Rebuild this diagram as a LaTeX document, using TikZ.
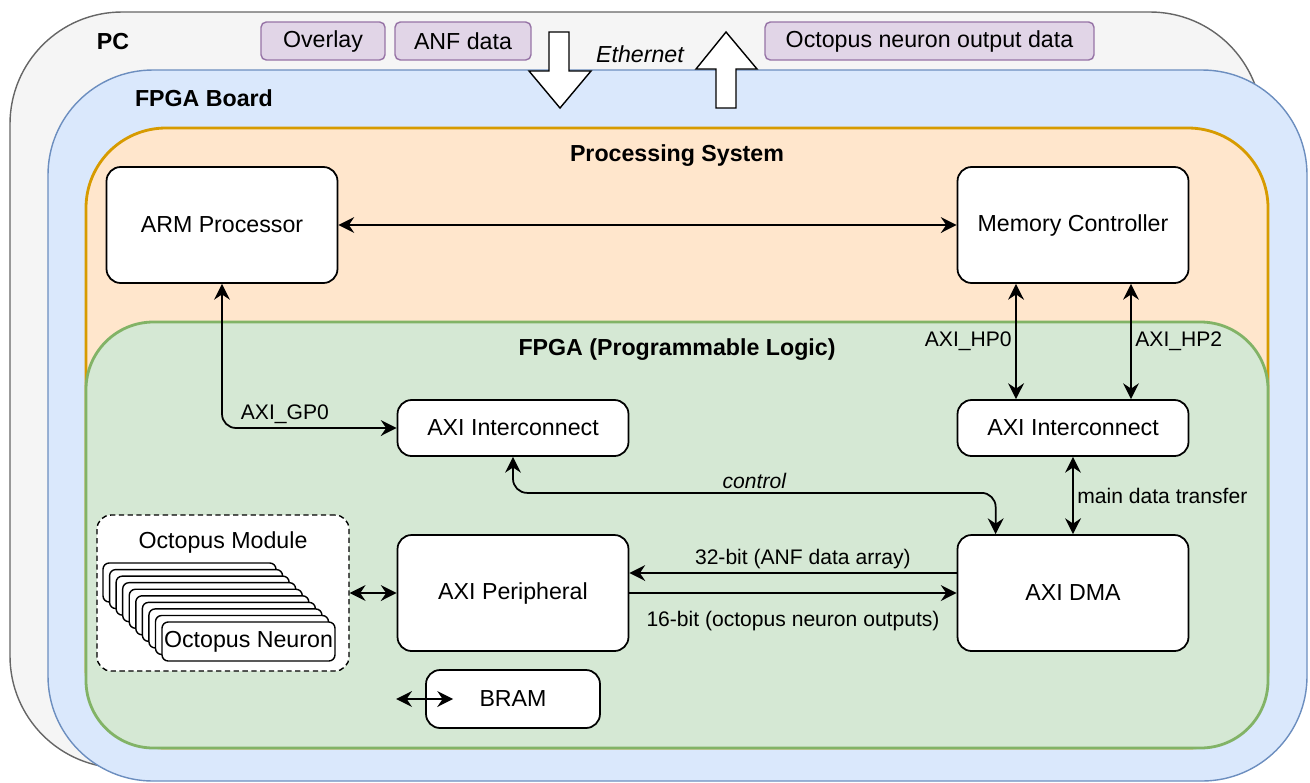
\documentclass[tikz,border=0pt]{standalone}
\usepackage{fontspec}
\setmainfont{Liberation Sans}
\usetikzlibrary{arrows.meta,positioning}

\definecolor{pcfill}{HTML}{F5F5F5}
\definecolor{pcline}{HTML}{666666}
\definecolor{boardfill}{HTML}{DAE8FC}
\definecolor{boardline}{HTML}{6C8EBF}
\definecolor{psfill}{HTML}{FFE6CC}
\definecolor{psline}{HTML}{D79B00}
\definecolor{plfill}{HTML}{D5E8D4}
\definecolor{plline}{HTML}{82B366}
\definecolor{tagfill}{HTML}{E1D5E7}
\definecolor{tagline}{HTML}{9673A6}

\begin{document}
\begin{tikzpicture}[
    x=0.02cm, y=-0.02cm,
    every node/.style={font=\fontsize{13.2}{15}\selectfont},
    block/.style={draw, fill=white, rounded corners=8pt, line width=1pt,
      minimum width=4.62cm, minimum height=2.32cm},
    flat block/.style={block, minimum height=1.12cm},
    tagbox/.style={draw=tagline, fill=tagfill, rounded corners=3pt, line width=0.8pt,
      minimum height=0.76cm},
    neuron/.style={draw, fill=white, rounded corners=3.5pt, line width=0.8pt,
      minimum width=3.46cm, minimum height=0.78cm, inner sep=0pt},
    boxtitle/.style={font=\bfseries\fontsize{13.2}{15}\selectfont},
    lbl/.style={font=\fontsize{12}{14}\selectfont, inner sep=2pt},
    link/.style={line width=1pt, -{Stealth[length=9pt,width=9pt,inset=3pt]}},
    bilink/.style={line width=1pt,
      {Stealth[length=9pt,width=9pt,inset=3pt]}-{Stealth[length=9pt,width=9pt,inset=3pt]}},
    fatarrow/.style={draw, fill=white, line width=0.8pt, line join=miter},
  ]
  \useasboundingbox (0,0) rectangle (1310,782);

  % nested containers
  \draw[draw=pcline, fill=pcfill, line width=0.8pt, rounded corners=2.24cm] (10,12) rectangle (1262,768);
  \draw[draw=boardline, fill=boardfill, line width=0.8pt, rounded corners=2.1cm] (48,70) rectangle (1307,781);
  \draw[draw=psline, fill=psfill, line width=1.6pt, rounded corners=1.6cm] (86,128) rectangle (1268,748);
  \draw[draw=plline, fill=plfill, line width=1.6pt, rounded corners=1.35cm] (86,322) rectangle (1268,748);

  \node[boxtitle] (pc) at (113,42) {PC};
  \node[boxtitle] (board) at (204,98) {FPGA Board};
  \node[boxtitle] (ps) at (677,156) {Processing System};
  \node[boxtitle] (pl) at (677,350) {FPGA (Programmable Logic)};

  % files sent over ethernet
  \node[tagbox, minimum width=2.48cm] (overlay) at (323,41) {Overlay};
  \node[tagbox, minimum width=2.72cm] (anf) at (463,41) {ANF data};
  \node[tagbox, minimum width=6.58cm] (outdata) at (929.5,41) {Octopus neuron output data};

  \draw[fatarrow] (549,32) -- (569,32) -- (569,71) -- (591,71) -- (560,108) -- (529,71) -- (549,71) -- cycle;
  \draw[fatarrow] (716,108) -- (736,108) -- (736,69) -- (757,69) -- (726,32) -- (696,69) -- (716,69) -- cycle;
  \node[font=\itshape\fontsize{13.2}{15}\selectfont] (eth) at (640,54) {Ethernet};

  % processing system
  \node[block] (arm) at (222,225) {ARM Processor};
  \node[block] (mem) at (1073,225) {Memory Controller};

  % programmable logic
  \node[flat block] (icl) at (513,428) {AXI Interconnect};
  \node[flat block] (icr) at (1073,428) {AXI Interconnect};
  \node[block] (per) at (513,593) {AXI Peripheral};
  \node[block] (dma) at (1073,593) {AXI DMA};
  \node[block, minimum width=3.48cm, minimum height=1.16cm] (bram) at (513,699) {BRAM};

  \node[draw, fill=white, dash pattern=on 3pt off 2pt, line width=0.8pt, rounded corners=8pt,
    minimum width=5.04cm, minimum height=3.12cm] (mod) at (223,593) {};
  \node (modname) at ([yshift=-0.56cm]mod.north) {Octopus Module};
  \foreach \i in {0,...,8}
    \node[neuron] (n\i) at (189.5+6.56*\i,582.5+6.56*\i) {};
  \node[neuron] (n9) at (248.5,641.5) {Octopus Neuron};

  % connections
  \draw[bilink] (arm) -- (mem);
  \draw[bilink, rounded corners=8pt] (arm.south) |- node[lbl, above, pos=0.68] {AXI\_GP0} (icl.west);
  \draw[bilink] ([xshift=-1.14cm]mem.south) -- node[lbl, left] {AXI\_HP0} ([xshift=-1.14cm]icr.north);
  \draw[bilink] ([xshift=1.16cm]mem.south) -- node[lbl, right] {AXI\_HP2} ([xshift=1.16cm]icr.north);
  \draw[bilink, rounded corners=8pt] (icl.south) -- ++(0,36)
    -| node[lbl, above, pos=0.25, font=\itshape\fontsize{12}{14}\selectfont] {control}
    ([xshift=0.78cm]dma.north west);
  \draw[bilink] (icr) -- node[lbl, right] {main data transfer} (dma);
  \draw[link] ([yshift=0.4cm]dma.west) -- node[lbl, above, pos=0.47] {32-bit (ANF data array)} ([yshift=0.4cm]per.east);
  \draw[link] (per) -- node[lbl, below, yshift=-8pt] {16-bit (octopus neuron outputs)} (dma);
  \draw[bilink] (mod) -- (per);
  \draw[bilink] ([xshift=-0.58cm]bram.west) -- ([xshift=0.56cm]bram.west);
\end{tikzpicture}
\end{document}
